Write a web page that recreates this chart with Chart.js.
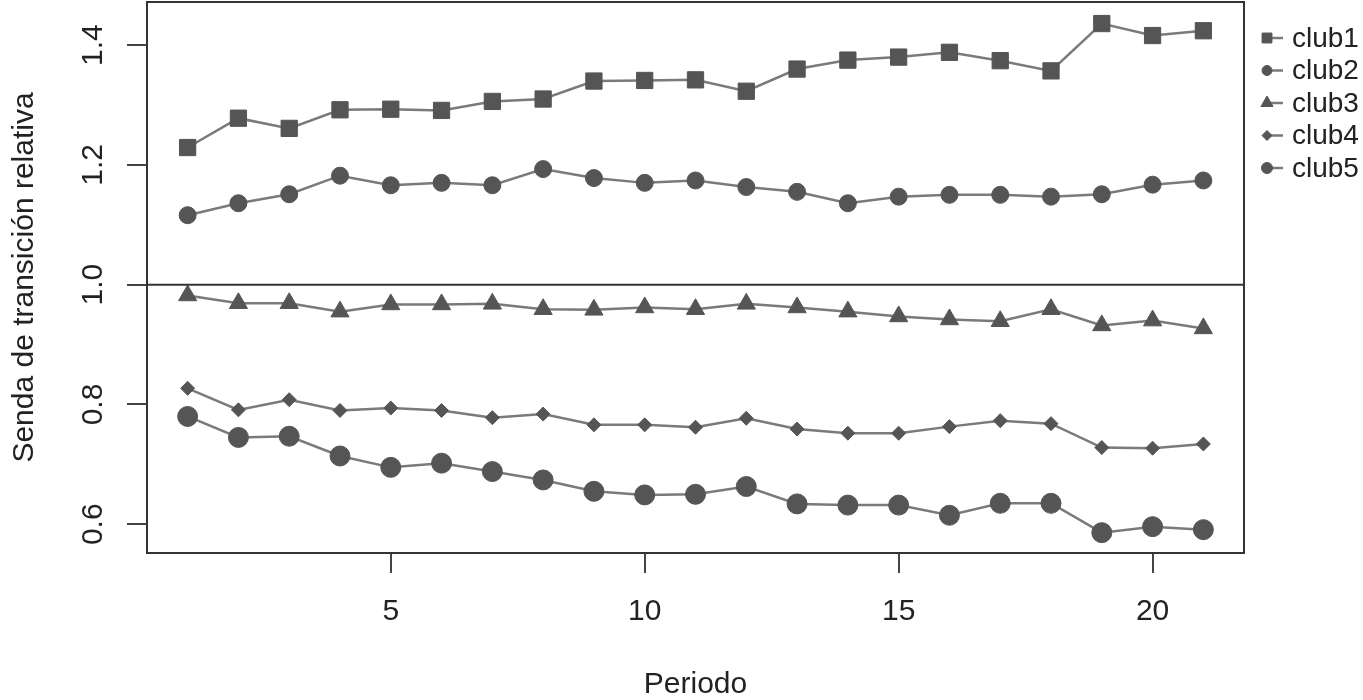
<!DOCTYPE html>
<html lang="es">
<head>
    <meta charset="UTF-8">
    <title>Senda de transición relativa</title>
    <style>
        html, body { margin: 0; padding: 0; background: #fff; }
        #wrap { width: 1363px; height: 700px; }
    </style>
</head>
<body>
    <div id="wrap"><canvas id="chart"></canvas></div>

    <script src="https://cdn.jsdelivr.net/npm/chart.js"></script>
    <script>
        // Datos
        const periodos = [1, 2, 3, 4, 5, 6, 7, 8, 9, 10, 11, 12, 13, 14, 15, 16, 17, 18, 19, 20, 21];
        const club1 = [1.229, 1.278, 1.261, 1.292, 1.293, 1.291, 1.306, 1.310, 1.340, 1.341, 1.342,
                       1.323, 1.360, 1.375, 1.380, 1.388, 1.374, 1.357, 1.436, 1.416, 1.424];
        const club2 = [1.116, 1.136, 1.151, 1.182, 1.166, 1.170, 1.166, 1.193, 1.178, 1.170, 1.174,
                       1.163, 1.155, 1.136, 1.147, 1.150, 1.150, 1.147, 1.151, 1.167, 1.174];
        const club3 = [0.982, 0.969, 0.969, 0.955, 0.967, 0.967, 0.968, 0.959, 0.958, 0.962, 0.959,
                       0.968, 0.962, 0.955, 0.947, 0.942, 0.939, 0.959, 0.932, 0.940, 0.927];
        const club4 = [0.827, 0.791, 0.808, 0.790, 0.794, 0.790, 0.778, 0.784, 0.766, 0.766, 0.762,
                       0.777, 0.759, 0.752, 0.752, 0.763, 0.773, 0.768, 0.728, 0.727, 0.734];
        const club5 = [0.780, 0.745, 0.747, 0.714, 0.695, 0.702, 0.688, 0.674, 0.655, 0.649, 0.650,
                       0.663, 0.634, 0.632, 0.632, 0.615, 0.635, 0.635, 0.586, 0.596, 0.591];
        const nombres = ['club1', 'club2', 'club3', 'club4', 'club5'];
        const xTicks = [5, 10, 15, 20];
        const yTicks = [0.6, 0.8, 1.0, 1.2, 1.4];
        const yTickLabels = ['0.6', '0.8', '1.0', '1.2', '1.4'];

        const FONT = '"Liberation Sans", Arial, sans-serif';
        const MARK = '#555555';
        const LINE = '#7a7a7a';
        const INK = '#222222';

        const series = [club1, club2, club3, club4, club5];
        const estilos = [
            { style: 'rect', r: 11.5, leg: 7 },
            { style: 'circle', r: 8.5, leg: 5 },
            { style: 'triangle', r: 10.5, leg: 7 },
            { style: 'rectRot', r: 7, leg: 5 },
            { style: 'circle', r: 10, leg: 5.5 }
        ];

        const datasets = series.map((vals, i) => ({
            label: nombres[i],
            data: periodos.map((p, k) => ({ x: p, y: vals[k] })),
            borderColor: LINE,
            borderWidth: 2.5,
            backgroundColor: MARK,
            pointStyle: estilos[i].style,
            pointRadius: estilos[i].r,
            pointBorderColor: MARK,
            pointBorderWidth: 1,
            pointBackgroundColor: MARK,
            tension: 0
        }));

        // Caja, línea en 1.0, etiquetas del eje y, títulos y leyenda
        const extras = {
            id: 'extras',
            afterDraw(chart) {
                const ctx = chart.ctx;
                const a = chart.chartArea;
                const ys = chart.scales.y;
                ctx.save();
                ctx.strokeStyle = '#333';
                ctx.lineWidth = 2;
                ctx.strokeRect(a.left, a.top, a.right - a.left, a.bottom - a.top);
                const y1 = ys.getPixelForValue(1.0);
                ctx.beginPath();
                ctx.moveTo(a.left, y1);
                ctx.lineTo(a.right, y1);
                ctx.stroke();

                // etiquetas del eje y, giradas
                ctx.fillStyle = INK;
                ctx.font = '30px ' + FONT;
                ctx.textAlign = 'center';
                ctx.textBaseline = 'alphabetic';
                yTicks.forEach((v, i) => {
                    ctx.save();
                    ctx.translate(102, ys.getPixelForValue(v));
                    ctx.rotate(-Math.PI / 2);
                    ctx.fillText(yTickLabels[i], 0, 0);
                    ctx.restore();
                });

                // títulos
                ctx.textBaseline = 'middle';
                ctx.fillText('Periodo', (a.left + a.right) / 2, 685);
                ctx.save();
                ctx.translate(25, (a.top + a.bottom) / 2);
                ctx.rotate(-Math.PI / 2);
                ctx.fillText('Senda de transición relativa', 0, 0);
                ctx.restore();

                // leyenda
                ctx.textAlign = 'left';
                ctx.font = '28px ' + FONT;
                nombres.forEach((n, i) => {
                    const y = 38 + i * 32.5;
                    ctx.strokeStyle = LINE;
                    ctx.lineWidth = 2.5;
                    ctx.beginPath();
                    ctx.moveTo(1266, y);
                    ctx.lineTo(1283, y);
                    ctx.stroke();
                    ctx.fillStyle = MARK;
                    ctx.strokeStyle = MARK;
                    ctx.lineWidth = 1;
                    Chart.helpers.drawPoint(ctx, { pointStyle: estilos[i].style, radius: estilos[i].leg, borderWidth: 1, rotation: 0 }, 1267, y);
                    ctx.fillStyle = INK;
                    ctx.fillText(n, 1292, y + 1);
                });
                ctx.restore();
            }
        };

        const ctx = document.getElementById('chart').getContext('2d');
        new Chart(ctx, {
            type: 'line',
            data: { datasets: datasets },
            options: {
                responsive: true,
                maintainAspectRatio: false,
                animation: false,
                layout: { autoPadding: false, padding: { top: 2, right: 119, left: 0, bottom: 0 } },
                plugins: {
                    legend: { display: false },
                    tooltip: { enabled: false }
                },
                scales: {
                    x: {
                        type: 'linear',
                        min: 0.2,
                        max: 21.8,
                        afterBuildTicks: s => { s.ticks = xTicks.map(v => ({ value: v })); },
                        afterFit: s => { s.height = 147; s.paddingLeft = 0; s.paddingRight = 0; },
                        grid: { drawOnChartArea: false, drawTicks: true, tickLength: 20, color: '#444', lineWidth: 2 },
                        border: { display: false },
                        ticks: { font: { size: 30, family: FONT }, color: INK, padding: 21, maxRotation: 0 }
                    },
                    y: {
                        type: 'linear',
                        min: 0.552,
                        max: 1.472,
                        afterBuildTicks: s => { s.ticks = yTicks.map(v => ({ value: v })); },
                        afterFit: s => { s.width = 147; s.paddingTop = 0; s.paddingBottom = 0; },
                        grid: { drawOnChartArea: false, drawTicks: true, tickLength: 20, color: '#444', lineWidth: 2 },
                        border: { display: false },
                        ticks: { display: false }
                    }
                }
            },
            plugins: [extras]
        });
    </script>
</body>
</html>
